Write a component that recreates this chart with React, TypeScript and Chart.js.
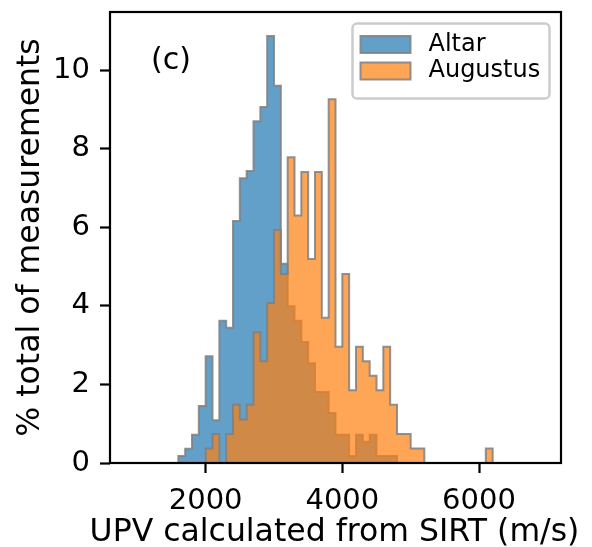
import React, { useEffect, useRef } from "react";
import { Chart, registerables } from "chart.js";

Chart.register(...registerables);

// ---- data ----
const binStart = 900;
const binWidth = 100;
const seriesNames = ["Altar", "Augustus"];

// % of measurements per 100 m/s bin, bins from 900 to 6900
const altarPct = [
  0, 0, 0, 0, 0, 0, 0,
  0.18, 0.36, 0.72, 1.45, 2.72, 1.09, 3.62, 3.44, 6.16, 7.25, 7.43, 8.7, 9.06, 10.87,
  9.6, 5.07, 3.99, 3.62, 3.08, 2.54, 1.81, 1.81, 1.27, 0.72, 0.72, 0.18, 0.72, 0.54,
  0.72, 0.18, 0.18, 0.18,
  0, 0, 0, 0, 0, 0, 0, 0, 0, 0, 0, 0, 0, 0, 0, 0, 0, 0, 0, 0, 0,
];
const augustusPct = [
  0, 0, 0, 0, 0, 0, 0, 0, 0, 0, 0,
  0.37, 0.74, 0, 0.74, 1.48, 1.11, 1.48, 3.33, 2.59, 4.07, 5.93, 4.81, 7.78, 6.3,
  7.41, 5.19, 7.41, 3.7, 9.26, 2.96, 4.81, 1.85, 2.96, 2.59, 2.22, 1.85, 2.96, 1.48,
  0.74, 0.74, 0.37, 0.37,
  0, 0, 0, 0, 0, 0, 0, 0, 0,
  0.37,
  0, 0, 0, 0, 0, 0, 0,
];

const xTickValues = [2000, 4000, 6000];
const yTickValues = [0, 2, 4, 6, 8, 10];
const xRange = [600, 7200];
const yRange = [0, 11.48];
const xLabel = "UPV calculated from SIRT (m/s)";
const yLabel = "% total of measurements";
const panelTag = "(c)";

const FONT = "'DejaVu Sans', sans-serif";
const fillColors = ["rgba(31,119,180,0.7)", "rgba(255,127,14,0.7)"];
const edgeColor = "rgba(128,128,128,0.85)";

function stepPoints(values: number[]) {
  const pts: { x: number; y: number }[] = [{ x: binStart, y: 0 }];
  values.forEach((v, i) => pts.push({ x: binStart + i * binWidth, y: v }));
  pts.push({ x: binStart + values.length * binWidth, y: 0 });
  return pts;
}

export default function App() {
  const ref = useRef<HTMLCanvasElement | null>(null);

  useEffect(() => {
    const framePlugin = {
      id: "frame",
      afterDatasetsDraw(chart: any) {
        const { ctx, chartArea: a } = chart;
        ctx.save();
        ctx.strokeStyle = "#000";
        ctx.lineWidth = 2.2;
        ctx.strokeRect(a.left, a.top, a.right - a.left, a.bottom - a.top);
        ctx.restore();
      },
    };

    const textPlugin = {
      id: "mplTexts",
      afterDraw(chart: any) {
        const { ctx, chartArea: a } = chart;
        ctx.save();
        // legend
        const fs = 24;
        const bw = 197;
        const bh = 75;
        const bx = a.right - 11.5 - bw;
        const by = a.top + 11.5;
        ctx.beginPath();
        (ctx as any).roundRect(bx, by, bw, bh, 4.6);
        ctx.fillStyle = "rgba(255,255,255,0.8)";
        ctx.fill();
        ctx.strokeStyle = "#cccccc";
        ctx.lineWidth = 2.5;
        ctx.stroke();
        const rows = [by + 21, by + 47.5];
        chart.data.datasets.forEach((ds: any, i: number) => {
          const cy = rows[i];
          const px = bx + 8;
          ctx.fillStyle = "#fff";
          ctx.fillRect(px, cy - 8.5, 50, 17);
          ctx.fillStyle = ds.backgroundColor;
          ctx.fillRect(px, cy - 8.5, 50, 17);
          ctx.strokeStyle = edgeColor;
          ctx.lineWidth = 2;
          ctx.strokeRect(px, cy - 8.5, 50, 17);
          ctx.fillStyle = "#000";
          ctx.font = `${fs}px ${FONT}`;
          ctx.textAlign = "left";
          ctx.textBaseline = "middle";
          ctx.fillText(ds.label, bx + 76, cy);
        });
        // panel tag
        ctx.font = `30px ${FONT}`;
        ctx.textAlign = "left";
        ctx.textBaseline = "alphabetic";
        ctx.fillStyle = "#000";
        ctx.fillText(panelTag, a.left + 41, a.top + 57);
        // x-axis label (drawn without width compression)
        ctx.font = `31.5px ${FONT}`;
        ctx.textAlign = "center";
        ctx.fillText(xLabel, (a.left + a.right) / 2 - 1, 541);
        ctx.restore();
      },
    };

    const chart = new Chart(ref.current as HTMLCanvasElement, {
      type: "line",
      data: {
        datasets: [
          {
            label: seriesNames[0],
            data: stepPoints(altarPct),
            stepped: "before",
            fill: "origin",
            backgroundColor: fillColors[0],
            borderColor: edgeColor,
            borderWidth: 2,
            pointRadius: 0,
            borderJoinStyle: "miter",
            order: 2,
          },
          {
            label: seriesNames[1],
            data: stepPoints(augustusPct),
            stepped: "before",
            fill: "origin",
            backgroundColor: fillColors[1],
            borderColor: edgeColor,
            borderWidth: 2,
            pointRadius: 0,
            borderJoinStyle: "miter",
            order: 1,
          },
        ] as any,
      },
      options: {
        animation: false,
        responsive: false,
        devicePixelRatio: 1,
        parsing: false as any,
        layout: { padding: { left: 0, right: 31, top: 12, bottom: 0 } },
        plugins: {
          legend: { display: false },
          tooltip: { enabled: false },
        },
        scales: {
          x: {
            type: "linear",
            min: xRange[0],
            max: xRange[1],
            border: { display: false },
            grid: {
              drawOnChartArea: false,
              drawTicks: true,
              tickLength: 10,
              tickWidth: 2.2,
              tickColor: "#000",
            },
            ticks: {
              padding: 11,
              color: "#000",
              font: { family: FONT, size: 29 },
              callback: (v: any) => String(v),
            },
            afterBuildTicks: (s: any) => {
              s.ticks = xTickValues.map((v) => ({ value: v }));
            },
            afterFit: (s: any) => {
              s.height = 84;
              s.paddingLeft = 0;
              s.paddingRight = 0;
            },
            title: { display: false },
          },
          y: {
            type: "linear",
            min: yRange[0],
            max: yRange[1],
            border: { display: false },
            grid: {
              drawOnChartArea: false,
              drawTicks: true,
              tickLength: 10,
              tickWidth: 2.2,
              tickColor: "#000",
            },
            ticks: {
              padding: 10,
              color: "#000",
              font: { family: FONT, size: 29 },
              callback: (v: any) => String(v),
            },
            afterBuildTicks: (s: any) => {
              s.ticks = yTickValues.map((v) => ({ value: v }));
            },
            afterFit: (s: any) => {
              s.width = 110;
              s.paddingTop = 0;
              s.paddingBottom = 0;
            },
            title: {
              display: true,
              text: yLabel,
              color: "#000",
              font: { family: FONT, size: 31.5, lineHeight: 1 },
              padding: { top: 15.5, bottom: 0 },
            },
          },
        },
      } as any,
      plugins: [framePlugin, textPlugin],
    });
    return () => chart.destroy();
  }, []);

  return (
    <div style={{ position: "absolute", left: 0, top: 0, width: 592, height: 547 }}>
      <canvas ref={ref} width={592} height={547} style={{ display: "block" }} />
    </div>
  );
}
